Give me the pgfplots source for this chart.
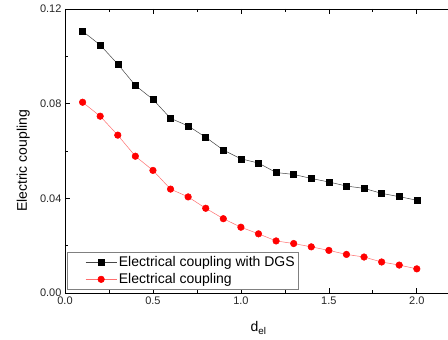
\documentclass[border=0pt]{standalone}
\usepackage{fontspec}
\setmainfont{Liberation Sans}
\usepackage{pgfplots}
\pgfplotsset{compat=1.18}
\definecolor{lred}{RGB}{255,110,110}
\definecolor{dgray}{RGB}{70,70,70}
\begin{document}
\begin{tikzpicture}
\useasboundingbox (-65pt,-47pt) rectangle (383pt,293pt);
\begin{axis}[
  at={(0pt,0pt)}, anchor=south west,
  scale only axis, width=387pt, height=284pt,
  xmin=0, xmax=2.2, ymin=0, ymax=0.12,
  xtick={0,0.5,1,1.5,2}, ytick={0,0.04,0.08,0.12},
  minor x tick num=1, minor y tick num=1,
  ytick pos=left,
  tick align=inside,
  major tick length=5pt, minor tick length=3pt,
  axis line style={line width=0.9pt},
  every tick/.style={black, line width=0.7pt},
  /pgf/number format/assume math mode=true,
  ticklabel style={font=\fontsize{11}{13}\selectfont, text=black!85},
  xticklabel style={/pgf/number format/fixed, /pgf/number format/fixed zerofill, /pgf/number format/precision=1},
  yticklabel style={/pgf/number format/fixed, /pgf/number format/fixed zerofill, /pgf/number format/precision=2},
  scaled y ticks=false,
  xlabel={d\textsubscript{el}},
  ylabel={Electric coupling},
  label style={font=\fontsize{14}{16}\selectfont},
  xlabel style={at={(axis description cs:0.5,-0.123)}, anchor=center},
  ylabel style={at={(axis description cs:-0.108,0.465)}, anchor=center, rotate=0},
  legend style={at={(axis cs:0.012,0.0015)}, anchor=south west, draw=gray, line width=0.6pt,
    font=\fontsize{14}{16}\selectfont, row sep=1.5pt, inner xsep=2pt, inner ysep=2pt},
  legend cell align=left,
  legend image code/.code={\path (0pt,0pt); \draw[mark repeat=2,mark phase=2,#1] plot coordinates {(16pt,0pt) (31.5pt,0pt) (47pt,0pt)};},
]
\addplot[dgray, line width=0.5pt, mark=square*, mark size=3pt, mark options={black, fill=black}] coordinates {
(0.1,0.1106) (0.2,0.1048) (0.3,0.0967) (0.4,0.0877) (0.5,0.0818)
(0.6,0.0738) (0.7,0.0706) (0.8,0.0658) (0.9,0.0604) (1.0,0.0567)
(1.1,0.0549) (1.2,0.0509) (1.3,0.0501) (1.4,0.0484) (1.5,0.0469)
(1.6,0.0452) (1.7,0.0442) (1.8,0.0421) (1.9,0.0407) (2.0,0.0392)};
\addlegendentry{Electrical coupling with DGS}
\addplot[lred, line width=0.5pt, mark=*, mark size=3.3pt, mark options={red, fill=red}] coordinates {
(0.1,0.0806) (0.2,0.0747) (0.3,0.0667) (0.4,0.0578) (0.5,0.0518)
(0.6,0.0439) (0.7,0.0406) (0.8,0.0358) (0.9,0.0314) (1.0,0.0278)
(1.1,0.0250) (1.2,0.0220) (1.3,0.0209) (1.4,0.0195) (1.5,0.0180)
(1.6,0.0163) (1.7,0.0152) (1.8,0.0131) (1.9,0.0118) (2.0,0.0102)};
\addlegendentry{Electrical coupling}
\end{axis}
\end{tikzpicture}
\end{document}
